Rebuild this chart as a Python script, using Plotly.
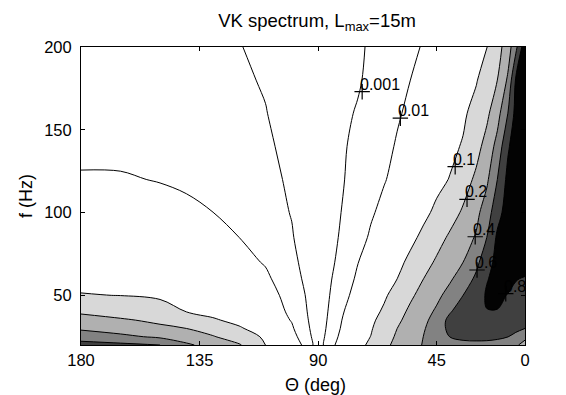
import numpy as np
import plotly.graph_objects as go

# ---- data ----
theta_deg = [180, 165, 150, 140, 130, 120, 110, 100, 95, 92, 90, 88, 85, 80, 75,
             70, 65, 60, 55, 50, 45, 40, 35, 30, 26, 22, 18, 15, 11.5]
freq_hz = [20, 25, 30, 35, 40, 50, 60, 70, 85, 100, 120, 140, 160, 180, 200]

# normalised spectrum, one row per frequency (columns follow theta_deg)
spectrum = [
    [0.66, 0.64, 0.60, 0.43, 0.30, 0.214, 0.10, 0.027, 0.0071, 0.0011, 1e-6, 0.0011, 0.0068,
     0.027, 0.062, 0.11, 0.169, 0.239, 0.319, 0.409, 0.49, 0.546, 0.557, 0.555, 0.55, 0.533, 0.50, 0.43, 0.30],
    [0.51, 0.44, 0.356, 0.274, 0.211, 0.138, 0.075, 0.018, 0.0044, 0.0007, 1e-6, 0.00076, 0.0049,
     0.02, 0.048, 0.101, 0.150, 0.219, 0.296, 0.402, 0.49, 0.602, 0.625, 0.635, 0.635, 0.625, 0.603, 0.53, 0.45],
    [0.36, 0.289, 0.232, 0.20, 0.145, 0.105, 0.050, 0.0124, 0.003, 0.00048, 1e-6, 0.00055, 0.0037,
     0.016, 0.04, 0.085, 0.135, 0.20, 0.274, 0.376, 0.497, 0.64, 0.70, 0.72, 0.73, 0.72, 0.69, 0.65, 0.60],
    [0.255, 0.219, 0.173, 0.135, 0.105, 0.069, 0.034, 0.0091, 0.0022, 0.00035, 1e-6, 0.00042, 0.003,
     0.0135, 0.033, 0.07, 0.121, 0.178, 0.249, 0.342, 0.468, 0.65, 0.74, 0.77, 0.78, 0.78, 0.755, 0.715, 0.66],
    [0.184, 0.147, 0.116, 0.10, 0.07, 0.0525, 0.027, 0.0073, 0.0017, 0.00026, 1e-6, 0.00033, 0.0024,
     0.0105, 0.027, 0.056, 0.108, 0.158, 0.227, 0.311, 0.426, 0.582, 0.70, 0.77, 0.795, 0.795, 0.785, 0.755, 0.70],
    [0.102, 0.098, 0.085, 0.070, 0.056, 0.0375, 0.020, 0.0054, 0.00105, 0.00016, 1e-6, 0.00021, 0.0015,
     0.0068, 0.019, 0.04, 0.077, 0.124, 0.18, 0.25, 0.342, 0.458, 0.60, 0.718, 0.815, 0.82, 0.795, 0.77, 0.74],
    [0.068, 0.067, 0.0585, 0.050, 0.039, 0.026, 0.0138, 0.0033, 0.00067, 0.00011, 1e-6, 0.00015, 0.00093,
     0.0043, 0.0135, 0.028, 0.055, 0.10, 0.141, 0.20, 0.27, 0.366, 0.483, 0.632, 0.79, 0.84, 0.83, 0.805, 0.79],
    [0.0445, 0.044, 0.038, 0.033, 0.0256, 0.0173, 0.0088, 0.0021, 0.00047, 0.000076, 1e-6, 0.00011, 0.00068,
     0.003, 0.0095, 0.02, 0.037, 0.067, 0.111, 0.157, 0.219, 0.296, 0.40, 0.546, 0.711, 0.86, 0.88, 0.87, 0.85],
    [0.027, 0.026, 0.0233, 0.020, 0.0153, 0.010, 0.0049, 0.00124, 0.0003, 0.000049, 1e-6, 0.000078, 0.00049,
     0.0019, 0.0053, 0.0125, 0.023, 0.04, 0.069, 0.111, 0.157, 0.22, 0.30, 0.415, 0.60, 0.83, 0.90, 0.91, 0.90],
    [0.0178, 0.0173, 0.0154, 0.0132, 0.0101, 0.0066, 0.0033, 0.00088, 0.00022, 0.000035, 1e-6, 0.000056, 0.00035,
     0.00145, 0.0037, 0.0082, 0.0155, 0.027, 0.044, 0.071, 0.11, 0.153, 0.218, 0.336, 0.49, 0.726, 0.88, 0.92, 0.93],
    [0.0112, 0.011, 0.0095, 0.0081, 0.0062, 0.0041, 0.0022, 0.00065, 0.00016, 0.000026, 1e-6, 0.00004, 0.00025,
     0.00099, 0.0022, 0.0046, 0.009, 0.016, 0.026, 0.042, 0.066, 0.102, 0.149, 0.227, 0.355, 0.60, 0.85, 0.92, 0.94],
    [0.0075, 0.0075, 0.0064, 0.0053, 0.0041, 0.0027, 0.0016, 0.00044, 0.000106, 0.000017, 1e-6, 0.000031, 0.00019,
     0.00088, 0.0017, 0.0033, 0.0063, 0.0117, 0.0185, 0.029, 0.045, 0.069, 0.104, 0.161, 0.252, 0.458, 0.77, 0.90, 0.95],
    [0.0054, 0.0051, 0.0044, 0.0038, 0.0029, 0.002, 0.0011, 0.00032, 0.00008, 0.000013, 1e-6, 0.000023, 0.000144,
     0.00072, 0.00118, 0.0023, 0.0045, 0.0083, 0.014, 0.0215, 0.033, 0.05, 0.077, 0.119, 0.174, 0.308, 0.60, 0.86, 0.95],
    [0.004, 0.0038, 0.0033, 0.0028, 0.0022, 0.0015, 0.0008, 0.00023, 0.000058, 0.0000092, 1e-6, 0.000017, 0.000106,
     0.00052, 0.0008, 0.0016, 0.0031, 0.0057, 0.01, 0.016, 0.025, 0.038, 0.058, 0.089, 0.13, 0.20, 0.424, 0.82, 0.95],
    [0.003, 0.0029, 0.0025, 0.0021, 0.00165, 0.0011, 0.00057, 0.00017, 0.000042, 0.0000067, 1e-6, 0.0000134, 0.000084,
     0.0004, 0.00072, 0.0013, 0.0023, 0.004, 0.0068, 0.0115, 0.018, 0.028, 0.044, 0.067, 0.095, 0.152, 0.286, 0.535, 0.93],
]

contour_levels = [0.001, 0.01, 0.1, 0.2, 0.4, 0.6, 0.8]
band_colors = ["#ffffff", "#ffffff", "#ffffff", "#d8d8d8", "#b0b0b0", "#828282", "#404040", "#030303"]

label_text = ["0.001", "0.01", "0.1", "0.2", "0.4", "0.6", "0.8"]
label_theta = [73.3, 58.8, 38.0, 33.5, 30.4, 29.7, 18.8]
label_freq = [173, 157, 127.7, 108, 85.4, 65.3, 51]

x_tick_vals = [180, 135, 90, 45, 11.5]
x_tick_text = ["180", "135", "90", "45", "0"]
y_tick_vals = [50, 100, 150, 200]

title_text = "VK spectrum, L<sub>max</sub>=15m"
x_title = "Θ (deg)"
y_title = "f (Hz)"

# ---- build the table the contour trace needs ----
theta = np.array(theta_deg, dtype=float)
order = np.argsort(theta)
z = np.array(spectrum, dtype=float)[:, order]
theta = theta[order]

# map the non-uniform levels onto evenly spaced indices 1..7
xp = np.log10([1e-6] + contour_levels + [1.0])
fp = [-2] + list(range(1, len(contour_levels) + 1)) + [len(contour_levels) + 1]
z_idx = np.interp(np.log10(z), xp, fp)

n = len(band_colors) - 1
colorscale = []
for k, c in enumerate(band_colors):
    colorscale.append([max(0.0, (k - 0.5) / n), c])
    colorscale.append([min(1.0, (k + 0.5) / n), c])

font_family = "Liberation Sans, Arial, Helvetica, sans-serif"

fig = go.Figure()
fig.add_trace(go.Contour(
    x=theta, y=freq_hz, z=z_idx,
    autocontour=False,
    contours=dict(start=1, end=len(contour_levels), size=1, coloring="fill", showlines=True),
    colorscale=colorscale,
    line=dict(color="black", width=1, smoothing=1.0),
    showscale=False,
    hoverinfo="skip",
))

fig.add_trace(go.Scatter(
    x=label_theta, y=label_freq, mode="markers",
    marker=dict(symbol="cross-thin", size=11, line=dict(color="black", width=1.2)),
    hoverinfo="skip", showlegend=False,
))
for t, th, fq in zip(label_text, label_theta, label_freq):
    fig.add_annotation(x=th, y=fq, text=t, showarrow=False, xanchor="left", yanchor="bottom",
                       xshift=-4, yshift=-3, font=dict(family=font_family, size=16, color="black"))

axis_common = dict(showline=True, linecolor="black", linewidth=1, mirror="allticks",
                   ticks="inside", ticklen=4, tickcolor="black", showgrid=False, zeroline=False,
                   tickfont=dict(family=font_family, size=16.5, color="black"))

fig.update_xaxes(range=[180, 11.5], tickvals=x_tick_vals, ticktext=x_tick_text,
                 ticklabelstandoff=0, **axis_common)
fig.update_yaxes(range=[20, 200], tickvals=y_tick_vals, ticklabelstandoff=5, **axis_common)

# axis titles (centred where the reference shows them)
fig.add_annotation(text=x_title, xref="paper", yref="paper", x=0.529, y=-0.134,
                   xanchor="center", yanchor="middle", showarrow=False,
                   font=dict(family=font_family, size=18, color="black"))
fig.add_annotation(text=y_title, xref="paper", yref="paper", x=-0.124, y=0.5,
                   xanchor="center", yanchor="middle", textangle=-90, showarrow=False,
                   font=dict(family=font_family, size=18, color="black"))

fig.update_layout(
    width=566, height=395,
    margin=dict(l=73, r=49, t=39, b=58),
    paper_bgcolor="white", plot_bgcolor="white",
    showlegend=False,
    title=dict(text=title_text, x=0.546, xanchor="center", y=0.968, yanchor="middle",
               font=dict(family=font_family, size=18.5, color="black")),
)

fig.write_html("out.html")
